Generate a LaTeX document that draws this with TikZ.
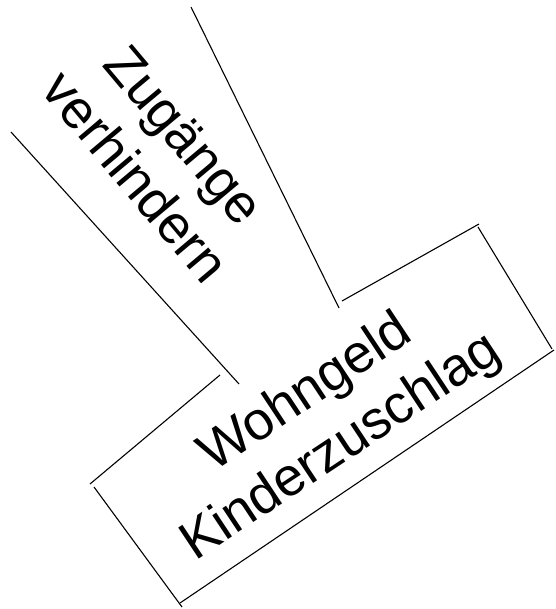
\documentclass[tikz,border=0pt]{standalone}
\usepackage{fontspec}
\setmainfont{Liberation Sans}
\usepackage{tikz}

\tikzset{
  seg/.style={line width=1.1pt},
  label/.style={align=center,inner sep=0pt,font=\fontsize{54}{64}\selectfont}
}

\begin{document}
\begin{tikzpicture}[x=1pt,y=-1pt]
\useasboundingbox (0,0) rectangle (555,609);
% the two labels
\node (zug) at (160,156) [label,rotate=-50] {Zugänge\\verhindern};
\node (wohn) at (324,421) [label,rotate=33.5] {Wohngeld\\Kinderzuschlag};
% ends of the strokes
\coordinate (la) at (11,132);
\coordinate (lb) at (239,384);
\coordinate (ra) at (191,7);
\coordinate (rb) at (339,308);
\coordinate (ta) at (342,301);
\coordinate (tb) at (479,224);
\coordinate (sa) at (478,227);
\coordinate (sb) at (552,349);
\coordinate (ba) at (554,350);
\coordinate (bb) at (180,603);
\coordinate (fa) at (94,487);
\coordinate (fb) at (182,607);
\coordinate (ga) at (90,484);
\coordinate (gb) at (220,375);
\draw [seg] (la) -- (lb);
\draw [seg] (ra) -- (rb);
\draw [seg] (ta) -- (tb);
\draw [seg] (sa) -- (sb);
\draw [seg] (ba) -- (bb);
\draw [seg] (fa) -- (fb);
\draw [seg] (ga) -- (gb);
\end{tikzpicture}
\end{document}
